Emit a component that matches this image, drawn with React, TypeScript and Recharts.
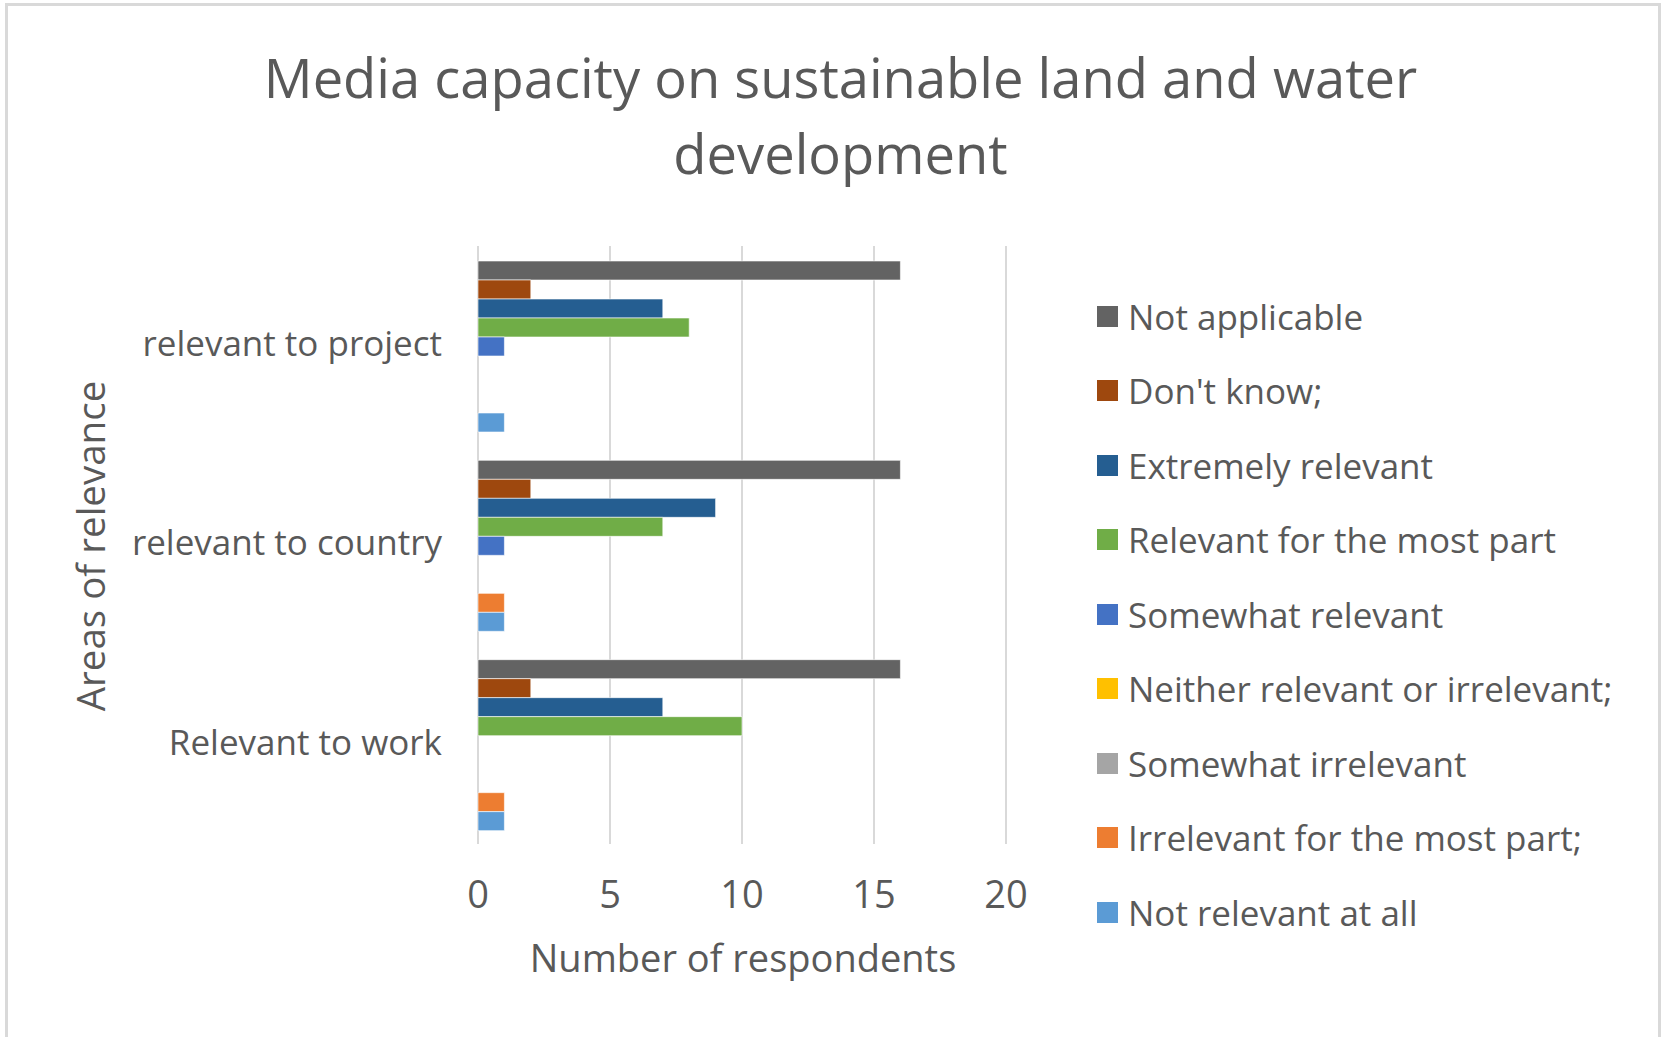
import React from 'react';
import {
  BarChart,
  Bar,
  XAxis,
  YAxis,
  CartesianGrid,
} from 'recharts';

const categories = ['relevant to project', 'relevant to country', 'Relevant to work'];

const seriesNames = [
  'Not applicable',
  "Don't know;",
  'Extremely relevant',
  'Relevant for the most part',
  'Somewhat relevant',
  'Neither relevant or irrelevant;',
  'Somewhat irrelevant',
  'Irrelevant for the most part;',
  'Not relevant at all',
];

const seriesColors = [
  '#636363',
  '#9e480e',
  '#255e91',
  '#70ad47',
  '#4472c4',
  '#ffc000',
  '#a5a5a5',
  '#ed7d31',
  '#5b9bd5',
];

// one array per series, same order as categories
const notApplicable = [16, 16, 16];
const dontKnow = [2, 2, 2];
const extremelyRelevant = [7, 9, 7];
const relevantMostPart = [8, 7, 10];
const somewhatRelevant = [1, 1, 0];
const neitherRelevant = [0, 0, 0];
const somewhatIrrelevant = [0, 0, 0];
const irrelevantMostPart = [0, 1, 1];
const notRelevantAtAll = [1, 1, 1];

const seriesValues = [
  notApplicable,
  dontKnow,
  extremelyRelevant,
  relevantMostPart,
  somewhatRelevant,
  neitherRelevant,
  somewhatIrrelevant,
  irrelevantMostPart,
  notRelevantAtAll,
];

const xTicks = [0, 5, 10, 15, 20];

const data = categories.map((name, i) => {
  const row: Record<string, string | number> = { name };
  seriesNames.forEach((s, j) => {
    row[s] = seriesValues[j][i];
  });
  return row;
});

const FONT = '"Open Sans", "Noto Sans", sans-serif';
const TEXT = '#595959';

function LegendList() {
  return (
    <div style={{ fontFamily: FONT }}>
      {seriesNames.map((s, i) => (
        <div
          key={s}
          style={{
            display: 'flex',
            alignItems: 'center',
            height: 74.5,
            fontSize: 35,
            color: TEXT,
            whiteSpace: 'nowrap',
          }}
        >
          <span
            style={{
              display: 'inline-block',
              width: 21,
              height: 21,
              background: seriesColors[i],
              marginRight: 10,
            }}
          />
          {s}
        </div>
      ))}
    </div>
  );
}

export default function App() {
  return (
    <div
      style={{
        position: 'relative',
        width: 1669,
        height: 1037,
        background: '#fff',
        overflow: 'hidden',
        fontFamily: FONT,
      }}
    >
      <style>{'body{margin:0;}'}</style>
      <div
        style={{
          position: 'absolute',
          left: 5,
          top: 3,
          width: 1656,
          height: 1100,
          border: '3px solid #d9d9d9',
          boxSizing: 'border-box',
        }}
      />
      <div
        style={{
          position: 'absolute',
          left: 6,
          width: 1669,
          top: 39,
          textAlign: 'center',
          fontSize: 54.3,
          lineHeight: '76px',
          color: TEXT,
        }}
      >
        Media capacity on sustainable land and water
        <br />
        development
      </div>
      <div
        style={{
          position: 'absolute',
          left: 90,
          top: 546,
          transform: 'translate(-50%, -50%) rotate(-90deg)',
          fontSize: 38.5,
          color: TEXT,
          whiteSpace: 'nowrap',
        }}
      >
        Areas of relevance
      </div>
      <div
        style={{
          position: 'absolute',
          left: 743,
          top: 957,
          transform: 'translate(-50%, -50%)',
          fontSize: 38,
          color: TEXT,
          whiteSpace: 'nowrap',
        }}
      >
        Number of respondents
      </div>
      <div style={{ position: 'absolute', left: 1097, top: 279 }}>
        <LegendList />
      </div>
      <div style={{ position: 'absolute', left: 0, top: 0 }}>
        <BarChart
          width={1669}
          height={1037}
          data={data}
          layout="vertical"
          margin={{ top: 246, right: 663, bottom: 0, left: 0 }}
          barCategoryGap={15}
          barGap={0}
        >
          <CartesianGrid horizontal={false} stroke="#d9d9d9" strokeWidth={2} />
          <XAxis
            type="number"
            domain={[0, 20]}
            ticks={xTicks}
            axisLine={false}
            tickLine={false}
            tickSize={0}
            tickMargin={37}
            height={193}
            tick={{ fill: TEXT, fontSize: 38, fontFamily: FONT }}
          />
          <YAxis
            type="category"
            dataKey="name"
            width={478}
            axisLine={false}
            tickLine={false}
            tickSize={0}
            tickMargin={36}
            tick={{ fill: TEXT, fontSize: 35, fontFamily: FONT, dy: -2 }}
          />
          {seriesNames.map((s, i) => (
            <Bar
              key={s}
              dataKey={s}
              fill={seriesColors[i]}
              stroke="#ffffff"
              strokeWidth={0.6}
              isAnimationActive={false}
            />
          ))}
        </BarChart>
      </div>
    </div>
  );
}
